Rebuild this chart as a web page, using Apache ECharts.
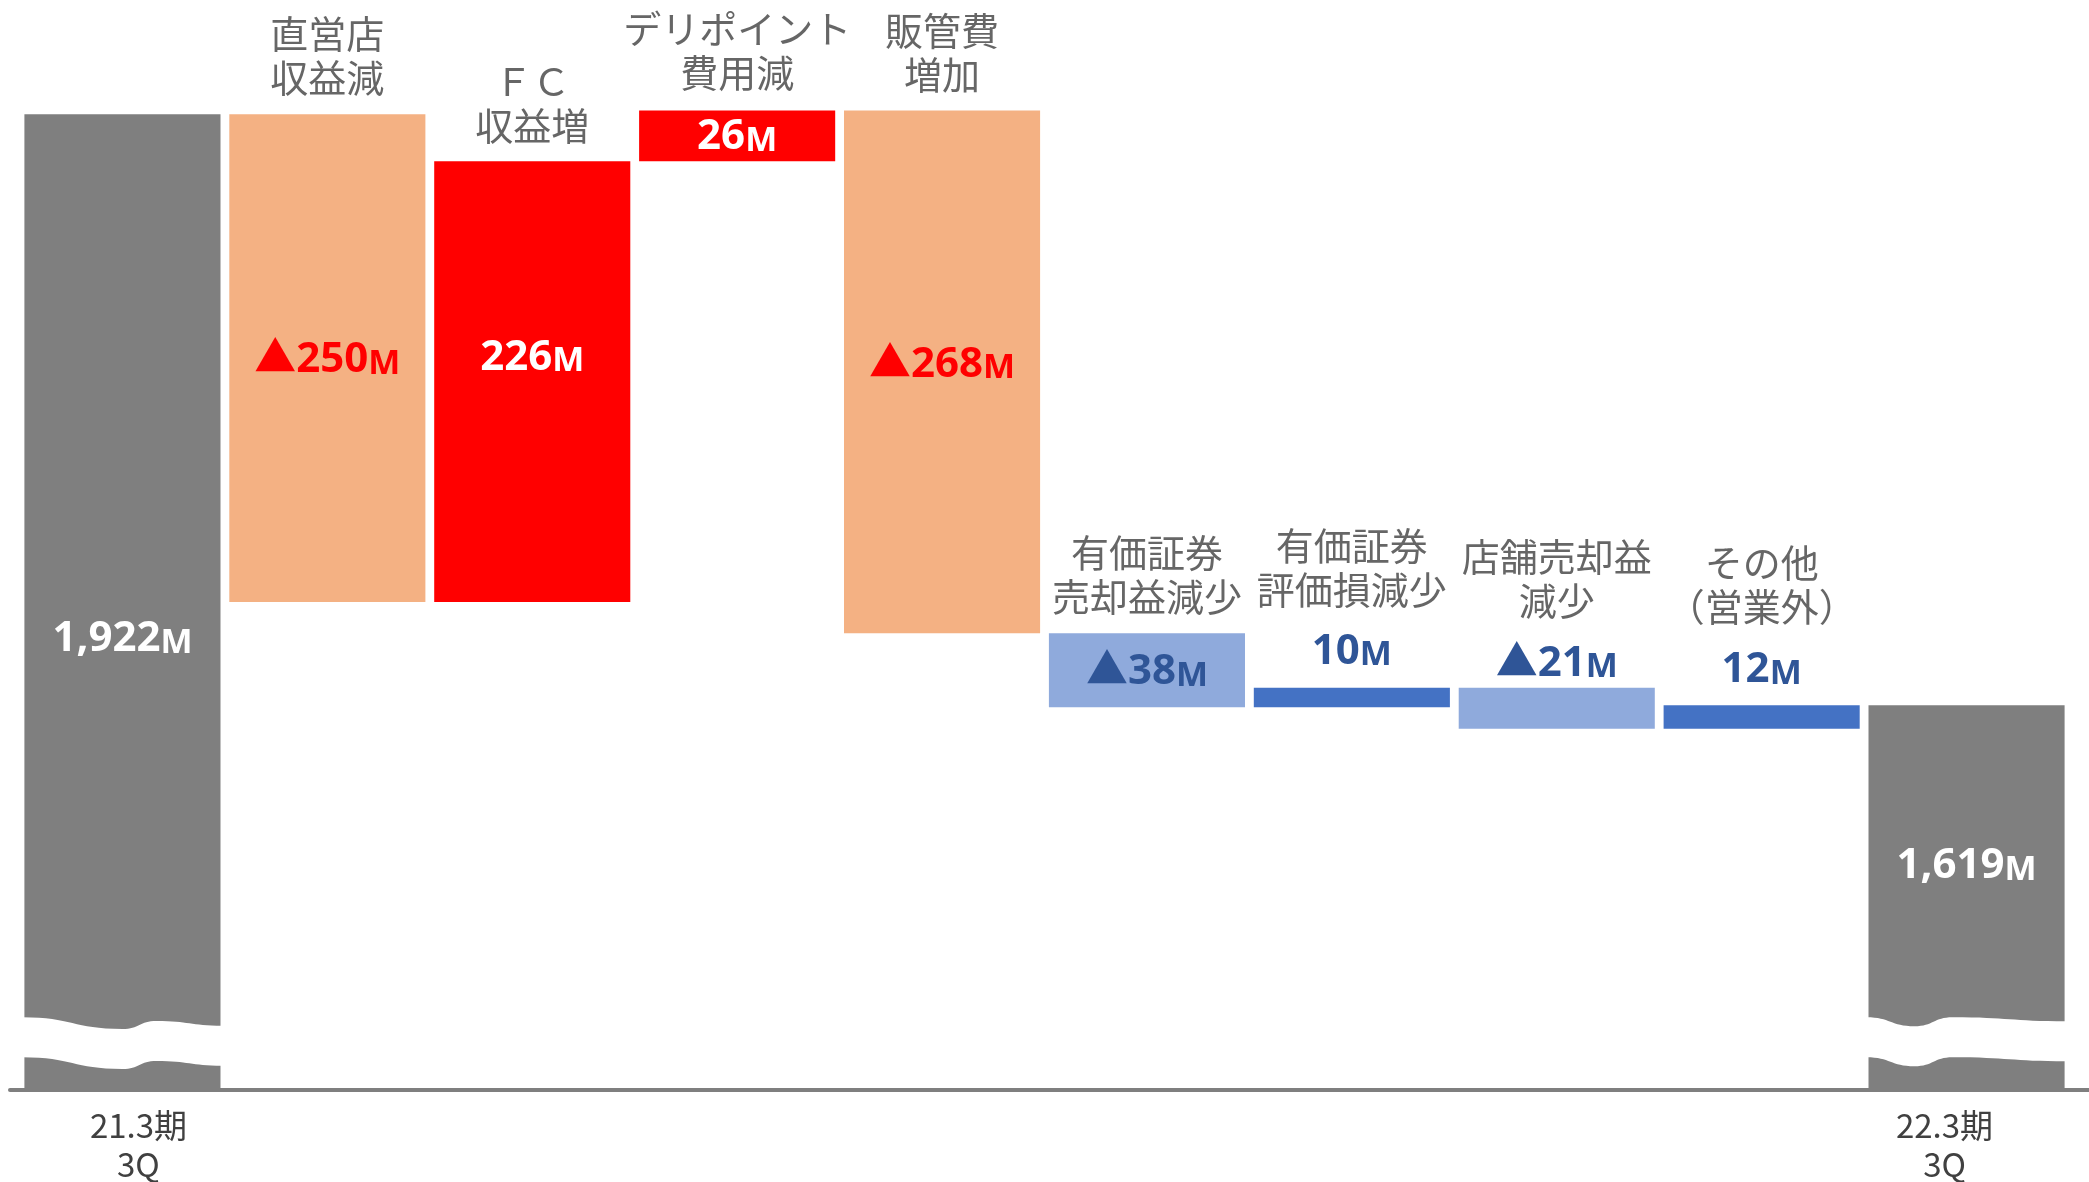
<!DOCTYPE html>
<html><head><meta charset="utf-8">
<script src="https://cdn.jsdelivr.net/npm/echarts@6/dist/echarts.min.js"></script>
<style>html,body{margin:0;padding:0;background:#fff}#c{width:2089px;height:1182px}</style>
</head><body><div id="c"></div>
<script>
// ---------- data ----------
const categories = ['21.3期\n3Q','直営店\n収益減','ＦＣ\n収益増','デリポイント\n費用減','販管費\n増加','有価証券\n売却益減少','有価証券\n評価損減少','店舗売却益\n減少','その他\n（営業外）','22.3期\n3Q'];
const startTotal = 1922;
const deltas = [-250, 226, 26, -268, -38, 10, -21, 12];
const endTotal = 1619;
const unitText = 'M';
const axisMin = 1422, axisMax = 1975;   // broken axis: visible value range
const breakAt = 1459;                   // value where the wavy break is drawn on total bars

// ---------- styles ----------
const barColors = ['#7F7F7F','#F4B183','#FF0000','#FF0000','#F4B183','#8FAADC','#4472C4','#8FAADC','#4472C4','#7F7F7F'];
const valColors = ['#FFFFFF','#FF0000','#FFFFFF','#FFFFFF','#FF0000','#2F5597','#2F5597','#2F5597','#2F5597','#FFFFFF'];
const valPlace = [['inside',33],['inside',-2],['inside',-28],['inside',-3],['inside',-11],['inside',-2],['top',15],['top',3],['top',14],['inside',-35]];
const nameGap = [0,15,14,16,14,15,76,65,77,0];
const waveShapes = {0: [[0,0],[0.5,11.7],[0.67,3.7],[1,8.4]], 9: [[0,0],[0.24,9],[0.43,0],[1,4]]};
const waveThickness = 40;
const barRatio = 0.957;
const VF = '"Open Sans", "Noto Sans CJK JP", sans-serif';
const JF = '"Noto Sans CJK JP", sans-serif';

// ---------- build waterfall ----------
const N = categories.length;
const fmt = n => n.toLocaleString('en-US');
const lows = [axisMin], highs = [startTotal], valTexts = [fmt(startTotal)];
let run = startTotal;
deltas.forEach(d => {
  const nxt = run + d;
  lows.push(Math.min(run, nxt)); highs.push(Math.max(run, nxt));
  valTexts.push((d < 0 ? '▲' : '') + fmt(Math.abs(d)));
  run = nxt;
});
lows.push(axisMin); highs.push(endTotal); valTexts.push(fmt(endTotal));

const baseData = lows.map(v => v);
const barData = highs.map((h, i) => {
  const c = valColors[i];
  const [pos, off] = valPlace[i];
  const lab = {
    show: true, position: pos,
    formatter: '{n|' + valTexts[i] + '}{m|' + unitText + '}',
    rich: {
      n: {fontSize: 42, fontWeight: 'bold', fontFamily: VF, color: c, lineHeight: 50, verticalAlign: 'bottom'},
      m: {fontSize: 34, fontWeight: 'bold', fontFamily: VF, color: c, lineHeight: 46, verticalAlign: 'bottom'}
    }
  };
  if (pos === 'inside') lab.offset = [0, off]; else lab.distance = off;
  return {value: h - lows[i], itemStyle: {color: barColors[i]}, label: lab};
});
const nameData = [];
for (let i = 1; i < N - 1; i++) {
  nameData.push({value: [i, highs[i]], label: {distance: nameGap[i]}});
}

const chart = echarts.init(document.getElementById('c'), null, {renderer: 'canvas'});
chart.setOption({
  animation: false,
  backgroundColor: '#FFFFFF',
  grid: [
    {left: 20, right: 20, top: 11, bottom: 92.5, outerBoundsMode: 'none', containLabel: false},
    {left: 10, right: 0, top: 11, bottom: 92.5, outerBoundsMode: 'none', containLabel: false}
  ],
  xAxis: [
    {type: 'category', data: categories, gridIndex: 0,
     axisLine: {show: false}, axisTick: {show: false}, splitLine: {show: false},
     axisLabel: {
       show: true, interval: 0, margin: 16,
       formatter: (v, i) => (i === 0 || i === N - 1) ? v.split('\n').map(s => '{' + (i === 0 ? 'a' : 'b') + '|' + s + '}').join('\n') : '',
       rich: {
         a: {fontSize: 33, lineHeight: 39, color: '#404040', fontFamily: JF, padding: [0, 0, 0, 32]},
         b: {fontSize: 33, lineHeight: 39, color: '#404040', fontFamily: JF, padding: [0, 44, 0, 0]}
       }
     }},
    {type: 'value', gridIndex: 1, min: 0, max: 1, z: 10,
     axisLine: {show: true, onZero: false, lineStyle: {color: '#7F7F7F', width: 4}},
     axisTick: {show: false}, axisLabel: {show: false}, splitLine: {show: false}}
  ],
  yAxis: [
    {type: 'value', gridIndex: 0, min: axisMin, max: axisMax, show: false, splitLine: {show: false}},
    {type: 'value', gridIndex: 1, min: 0, max: 1, show: false, splitLine: {show: false}}
  ],
  series: [
    {type: 'bar', stack: 'w', data: baseData, barWidth: (barRatio * 100) + '%',
     itemStyle: {color: 'rgba(0,0,0,0)'}, silent: true, z: 2},
    {type: 'bar', stack: 'w', data: barData, barWidth: (barRatio * 100) + '%', z: 3},
    {type: 'scatter', data: nameData, symbolSize: 0, itemStyle: {color: 'rgba(0,0,0,0)'}, z: 4,
     label: {show: true, position: 'top', formatter: p => categories[p.value[0]],
             fontSize: 38, lineHeight: 44, color: '#404040', fontFamily: JF, align: 'center'}},
    {type: 'custom', z: 5, data: [[0, breakAt], [N - 1, breakAt]],
     renderItem: (params, api) => {
       const i = api.value(0);
       const p = api.coord([i, api.value(1)]);
       const bw = api.size([1, 0])[0] * barRatio;
       const x0 = p[0] - bw / 2 - 2, w = bw + 4, y0 = p[1];
       const pts = waveShapes[i].map(q => [x0 + q[0] * w, y0 + q[1]]);
       let d = 'M' + pts[0][0] + ' ' + pts[0][1];
       for (let k = 1; k < pts.length; k++) {
         const a = pts[k - 1], b = pts[k], mx = (a[0] + b[0]) / 2;
         d += ' C' + mx + ' ' + a[1] + ' ' + mx + ' ' + b[1] + ' ' + b[0] + ' ' + b[1];
       }
       const bp = pts.map(q => [q[0], q[1] + waveThickness]).reverse();
       d += ' L' + bp[0][0] + ' ' + bp[0][1];
       for (let k = 1; k < bp.length; k++) {
         const a = bp[k - 1], b = bp[k], mx = (a[0] + b[0]) / 2;
         d += ' C' + mx + ' ' + a[1] + ' ' + mx + ' ' + b[1] + ' ' + b[0] + ' ' + b[1];
       }
       d += ' Z';
       return {type: 'path', shape: {pathData: d}, style: {fill: '#FFFFFF'}};
     }}
  ]
});
</script>
</body></html>
